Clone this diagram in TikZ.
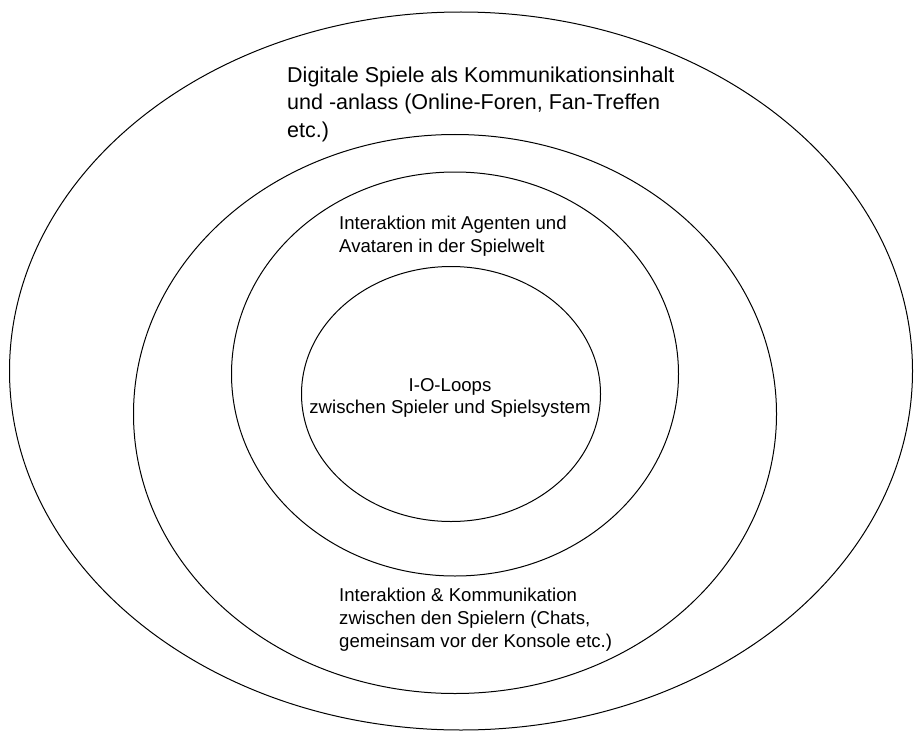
\documentclass[tikz,border=0pt]{standalone}
\usepackage{fontspec}
\setmainfont{Liberation Sans}
\usetikzlibrary{positioning,shapes.geometric}

\begin{document}
\begin{tikzpicture}[x=1pt,y=-1pt,
 ring/.style={draw=black,line width=1pt,ellipse,inner sep=0pt},
 bigtxt/.style={inner sep=0pt,align=left,font=\fontsize{21.5}{27.2}\selectfont},
 smalltxt/.style={inner sep=0pt,font=\fontsize{18.6}{22.7}\selectfont}
]
\useasboundingbox (0,0) rectangle (915,733);
% four nested spheres of communication
\node[ring,minimum width=903,minimum height=718] (games) at (461,371) {};
\node[ring,minimum width=643,minimum height=559] (players) at (455,414) {};
\node[ring,minimum width=447,minimum height=404] (agents) at (455,374) {};
\node[ring,minimum width=299,minimum height=255] (loops) at (451,394) {};
% labels
\node[bigtxt,anchor=north west] (gamestxt) at (287,67) {Digitale Spiele als Kommunikationsinhalt\\und -anlass (Online-Foren, Fan-Treffen\\etc.)};
\node[smalltxt,align=left,anchor=north west] (agentstxt) at (339,216) {Interaktion mit Agenten und\\Avataren in der Spielwelt};
\node[smalltxt,align=center,anchor=north] (loopstxt) at (450,378) {I-O-Loops\\zwischen Spieler und Spielsystem};
\node[smalltxt,align=left,anchor=north west] (playerstxt) at (339,588) {Interaktion \& Kommunikation\\zwischen den Spielern (Chats,\\gemeinsam vor der Konsole etc.)};
\end{tikzpicture}
\end{document}
